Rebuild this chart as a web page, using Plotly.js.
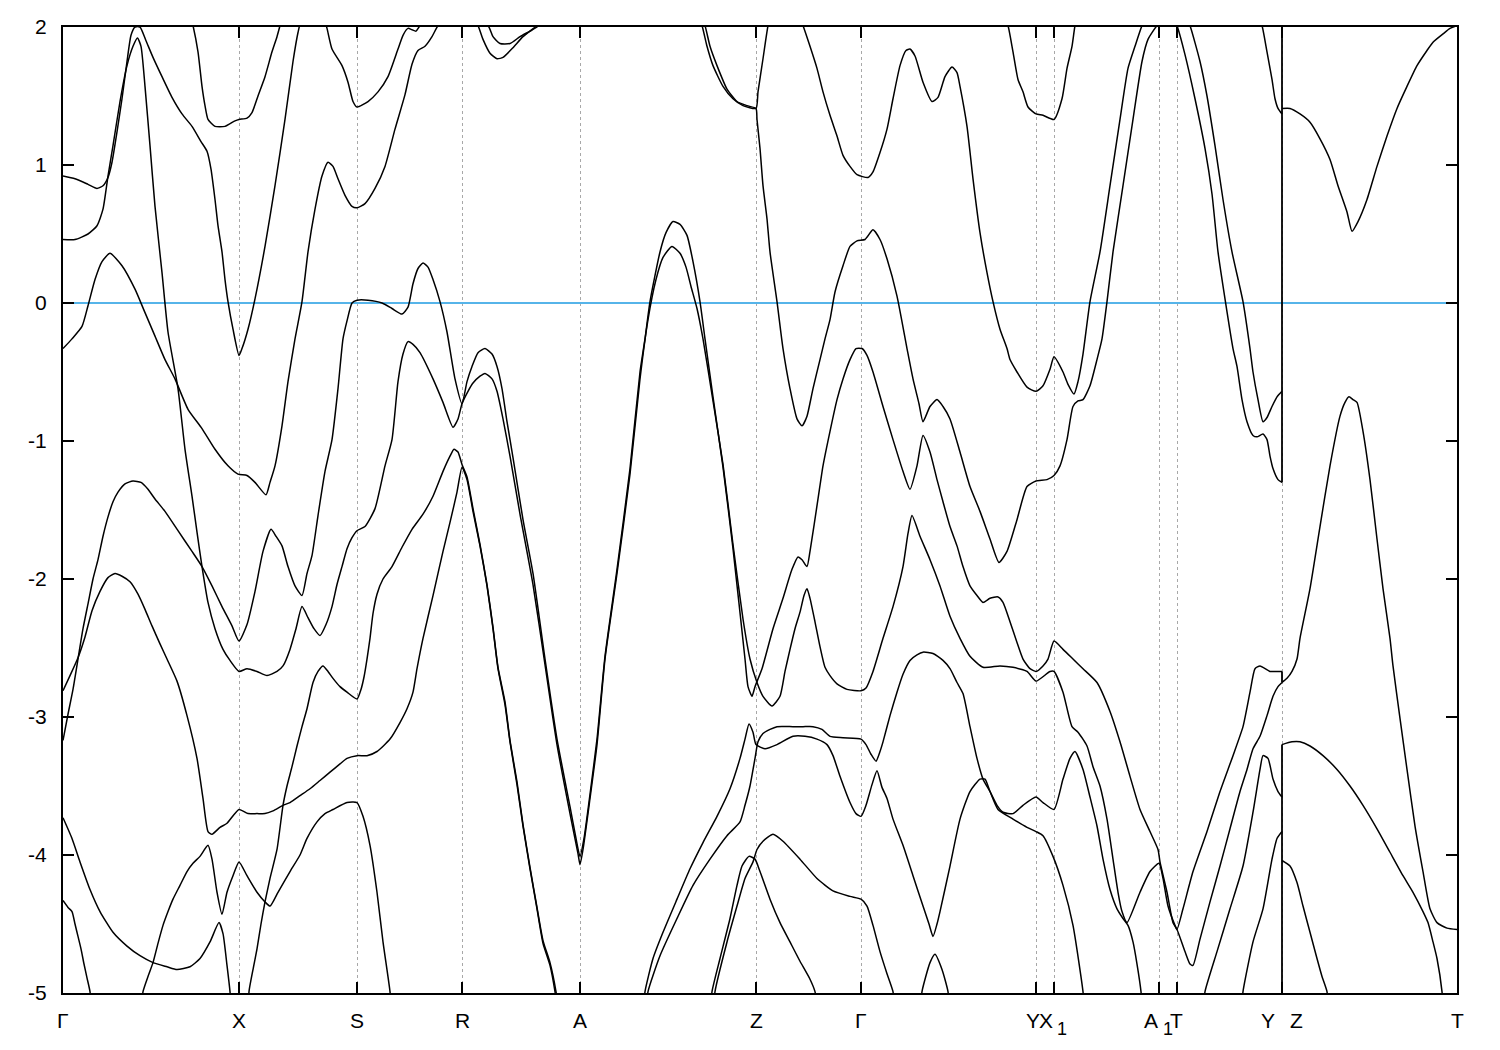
<!DOCTYPE html>
<html>
<head>
<meta charset="utf-8">
<script src="https://cdn.plot.ly/plotly-3.0.1.min.js"></script>
<style>html,body{margin:0;padding:0;background:#fff;}#chart{width:1500px;height:1050px;}</style>
</head>
<body>
<div id="chart"></div>
<script>
// High-symmetry points along the k-path (path-length units)
const kPointPos = [0, 1.76, 2.94, 3.99, 5.17, 6.93, 7.98, 9.73, 9.91, 10.96, 11.14, 12.19, 13.94];
const kLabels = ["Γ","X","S","R","A","Z","Γ","Y","X1","A1","T","Y|Z","T"];
const yTicks = [-5,-4,-3,-2,-1,0,1,2];
// Y|Z discontinuity (energies spanned by the jump)
const jumpK = 12.19;
const jumpE = [[2.0,-1.30],[-2.67,-2.75],[-3.20,-5.0]];

// Bands: [k, E(eV)]
const band01 = [[0,.92],[.12,.90],[.25,.86],[.34,.83],[.40,.85],[.45,.91],[.49,1.02],[.54,1.24],[.59,1.48],[.64,1.75],[.68,1.94],[.72,2.0],[.77,2.0],[.83,1.90],[.90,1.78],[.99,1.64],[1.09,1.49],[1.19,1.37],[1.29,1.28],[1.38,1.17],[1.44,1.10],[1.48,.97],[1.52,.75],[1.55,.56],[1.59,.37],[1.62,.17],[1.65,.01],[1.70,-.19],[1.76,-.38],[1.79,-.33],[1.85,-.19],[1.92,.03],[2.02,.41],[2.12,.85],[2.22,1.33],[2.30,1.75],[2.35,1.96],[2.39,2.07],[2.49,2.14],[2.61,2.06],[2.64,1.99],[2.69,1.84],[2.79,1.72],[2.85,1.60],[2.90,1.46],[2.94,1.42],[3.05,1.46],[3.15,1.53],[3.25,1.64],[3.35,1.84],[3.40,1.94],[3.45,1.99],[3.49,1.98],[3.53,1.97],[3.57,2.01],[3.67,2.09]];
const band02 = [[1.27,2.09],[1.30,2.01],[1.35,1.82],[1.39,1.57],[1.42,1.43],[1.45,1.33],[1.52,1.28],[1.62,1.28],[1.72,1.32],[1.76,1.33],[1.84,1.34],[1.89,1.38],[1.95,1.50],[2.02,1.64],[2.09,1.82],[2.14,1.93],[2.17,2.01],[2.20,2.09]];
const band03 = [[0,.46],[.12,.46],[.25,.50],[.34,.56],[.40,.68],[.45,.92],[.50,1.14],[.57,1.46],[.64,1.72],[.70,1.86],[.745,1.92],[.78,1.86],[.82,1.57],[.87,1.14],[.92,.70],[.99,.22],[1.05,-.21],[1.15,-.62],[1.22,-1.06],[1.29,-1.40],[1.34,-1.66],[1.39,-1.91],[1.45,-2.17],[1.52,-2.36],[1.60,-2.51],[1.67,-2.59],[1.76,-2.67],[1.84,-2.65],[1.94,-2.67],[2.04,-2.70],[2.14,-2.67],[2.20,-2.63],[2.27,-2.51],[2.33,-2.36],[2.39,-2.20],[2.45,-2.28],[2.51,-2.36],[2.57,-2.41],[2.63,-2.33],[2.69,-2.20],[2.74,-2.04],[2.79,-1.91],[2.84,-1.78],[2.89,-1.70],[2.94,-1.65],[3.02,-1.62],[3.12,-1.49],[3.22,-1.18],[3.29,-.99],[3.35,-.57],[3.40,-.37],[3.45,-.28],[3.50,-.30],[3.57,-.36],[3.70,-.55],[3.80,-.72],[3.90,-.90],[3.95,-.84],[3.99,-.73],[4.05,-.64],[4.10,-.58],[4.17,-.53],[4.22,-.51],[4.29,-.55],[4.34,-.64],[4.40,-.84],[4.47,-1.11],[4.57,-1.53],[4.70,-2.04],[4.82,-2.62],[4.94,-3.20],[5.07,-3.70],[5.15,-3.99],[5.17,-4.07],[5.20,-3.96],[5.27,-3.59],[5.34,-3.20],[5.42,-2.58],[5.54,-1.96],[5.67,-1.24],[5.77,-.55],[5.85,-.12],[5.93,.17],[6.00,.33],[6.09,.41],[6.17,.36],[6.23,.26],[6.28,.12],[6.34,-.04],[6.40,-.26],[6.50,-.71],[6.60,-1.17],[6.70,-1.75],[6.80,-2.29],[6.87,-2.58],[6.94,-2.75],[7.00,-2.85],[7.09,-2.92],[7.17,-2.85],[7.22,-2.67],[7.27,-2.51],[7.32,-2.36],[7.37,-2.24],[7.41,-2.12],[7.44,-2.07],[7.47,-2.14],[7.52,-2.31],[7.57,-2.49],[7.62,-2.64],[7.67,-2.70],[7.74,-2.76],[7.84,-2.80],[7.98,-2.81],[8.03,-2.79],[8.10,-2.67],[8.20,-2.43],[8.30,-2.20],[8.40,-1.91],[8.45,-1.67],[8.49,-1.54],[8.57,-1.69],[8.67,-1.86],[8.77,-2.05],[8.87,-2.27],[8.97,-2.43],[9.07,-2.56],[9.20,-2.64],[9.37,-2.63],[9.50,-2.64],[9.64,-2.67],[9.73,-2.74],[9.87,-2.67],[9.91,-2.67],[10.00,-2.82],[10.09,-3.07],[10.15,-3.11],[10.24,-3.21],[10.30,-3.36],[10.37,-3.50],[10.44,-3.74],[10.50,-4.03],[10.55,-4.27],[10.59,-4.41],[10.64,-4.49],[10.77,-4.27],[10.87,-4.12],[10.96,-4.06],[11.00,-4.17],[11.05,-4.37],[11.12,-4.51],[11.14,-4.54],[11.20,-4.39],[11.30,-4.12],[11.44,-3.83],[11.57,-3.54],[11.70,-3.28],[11.80,-3.07],[11.87,-2.82],[11.92,-2.65],[11.97,-2.63],[12.07,-2.67],[12.14,-2.67],[12.19,-2.67]];
const band04 = [[0,-3.17],[.05,-2.98],[.10,-2.80],[.15,-2.58],[.20,-2.36],[.25,-2.18],[.30,-2.00],[.35,-1.86],[.40,-1.69],[.45,-1.55],[.50,-1.44],[.55,-1.37],[.62,-1.31],[.70,-1.29],[.78,-1.30],[.85,-1.35],[.92,-1.42],[1.02,-1.51],[1.15,-1.65],[1.29,-1.80],[1.39,-1.91],[1.49,-2.05],[1.59,-2.20],[1.69,-2.34],[1.76,-2.45],[1.84,-2.33],[1.92,-2.09],[2.00,-1.80],[2.08,-1.64],[2.13,-1.69],[2.19,-1.76],[2.25,-1.91],[2.32,-2.05],[2.39,-2.12],[2.44,-1.96],[2.49,-1.83],[2.55,-1.54],[2.62,-1.22],[2.69,-.99],[2.75,-.62],[2.80,-.26],[2.84,-.13],[2.89,0],[2.94,.02],[3.05,.02],[3.19,0],[3.29,-.04],[3.39,-.08],[3.45,-.03],[3.50,.14],[3.55,.25],[3.60,.29],[3.65,.26],[3.70,.17],[3.77,.01],[3.84,-.21],[3.92,-.55],[3.99,-.73],[4.04,-.57],[4.09,-.46],[4.15,-.36],[4.22,-.33],[4.29,-.37],[4.34,-.46],[4.39,-.62],[4.44,-.86],[4.50,-1.12],[4.60,-1.57],[4.70,-1.96],[4.82,-2.58],[4.94,-3.16],[5.07,-3.65],[5.13,-3.88],[5.17,-4.01],[5.21,-3.88],[5.27,-3.56],[5.34,-3.16],[5.42,-2.56],[5.54,-1.93],[5.67,-1.20],[5.77,-.50],[5.82,-.26],[5.87,.01],[5.97,.37],[6.03,.51],[6.10,.59],[6.17,.57],[6.24,.49],[6.30,.30],[6.37,.01],[6.42,-.26],[6.50,-.68],[6.60,-1.19],[6.70,-1.78],[6.82,-2.58],[6.85,-2.78],[6.89,-2.85],[6.92,-2.78],[6.99,-2.65],[7.10,-2.36],[7.20,-2.14],[7.29,-1.93],[7.35,-1.84],[7.39,-1.86],[7.44,-1.91],[7.47,-1.80],[7.55,-1.42],[7.60,-1.18],[7.67,-.93],[7.74,-.70],[7.80,-.55],[7.87,-.41],[7.93,-.33],[7.99,-.33],[8.04,-.38],[8.10,-.50],[8.20,-.75],[8.30,-.99],[8.40,-1.22],[8.47,-1.35],[8.54,-1.18],[8.60,-.96],[8.67,-1.08],[8.74,-1.28],[8.80,-1.44],[8.87,-1.62],[8.94,-1.76],[9.00,-1.91],[9.07,-2.05],[9.14,-2.12],[9.20,-2.17],[9.27,-2.14],[9.35,-2.13],[9.40,-2.17],[9.47,-2.31],[9.54,-2.46],[9.60,-2.58],[9.67,-2.65],[9.73,-2.67],[9.80,-2.63],[9.85,-2.58],[9.91,-2.45],[10.00,-2.51],[10.10,-2.58],[10.20,-2.65],[10.34,-2.75],[10.47,-2.96],[10.57,-3.18],[10.67,-3.43],[10.77,-3.67],[10.87,-3.83],[10.95,-3.96],[10.97,-4.05],[11.04,-4.27],[11.10,-4.49],[11.14,-4.54],[11.22,-4.70],[11.27,-4.79],[11.30,-4.80],[11.37,-4.61],[11.47,-4.34],[11.57,-4.08],[11.67,-3.81],[11.77,-3.54],[11.84,-3.38],[11.90,-3.23],[11.97,-3.14],[12.04,-2.99],[12.10,-2.85],[12.15,-2.78],[12.19,-2.75]];
const band05 = [[0,-2.81],[.07,-2.70],[.15,-2.57],[.22,-2.42],[.29,-2.23],[.37,-2.09],[.45,-1.99],[.52,-1.96],[.59,-1.98],[.67,-2.02],[.75,-2.11],[.82,-2.22],[.89,-2.34],[.97,-2.47],[1.04,-2.58],[1.14,-2.74],[1.24,-2.99],[1.34,-3.30],[1.40,-3.59],[1.45,-3.83],[1.49,-3.85],[1.57,-3.80],[1.64,-3.77],[1.76,-3.67],[1.85,-3.70],[1.94,-3.70],[2.02,-3.70],[2.10,-3.68],[2.20,-3.64],[2.27,-3.62],[2.37,-3.57],[2.47,-3.52],[2.57,-3.46],[2.67,-3.40],[2.77,-3.34],[2.84,-3.30],[2.94,-3.28],[3.04,-3.28],[3.14,-3.25],[3.27,-3.16],[3.37,-3.04],[3.44,-2.94],[3.50,-2.82],[3.54,-2.65],[3.60,-2.43],[3.70,-2.12],[3.80,-1.80],[3.87,-1.59],[3.94,-1.37],[3.99,-1.19],[4.04,-1.28],[4.10,-1.51],[4.17,-1.76],[4.24,-2.05],[4.30,-2.36],[4.35,-2.65],[4.42,-2.91],[4.47,-3.18],[4.54,-3.49],[4.60,-3.79],[4.67,-4.10],[4.74,-4.39],[4.80,-4.64],[4.87,-4.80],[4.92,-4.99],[4.94,-5.1]];
const band06 = [[1.86,-5.1],[1.86,-4.99],[1.90,-4.83],[1.94,-4.68],[1.98,-4.50],[2.02,-4.34],[2.07,-4.17],[2.14,-3.96],[2.20,-3.64],[2.24,-3.50],[2.29,-3.36],[2.34,-3.21],[2.39,-3.07],[2.44,-2.94],[2.50,-2.75],[2.55,-2.67],[2.60,-2.63],[2.65,-2.67],[2.70,-2.72],[2.77,-2.78],[2.84,-2.82],[2.94,-2.87],[2.98,-2.80],[3.01,-2.71],[3.04,-2.58],[3.07,-2.43],[3.10,-2.25],[3.14,-2.11],[3.20,-2.00],[3.29,-1.91],[3.39,-1.77],[3.49,-1.64],[3.60,-1.53],[3.70,-1.40],[3.80,-1.22],[3.87,-1.11],[3.91,-1.06],[3.95,-1.08],[3.99,-1.17],[4.04,-1.26],[4.10,-1.49],[4.17,-1.75],[4.24,-2.04],[4.30,-2.35],[4.35,-2.64],[4.42,-2.89],[4.47,-3.17],[4.54,-3.47],[4.60,-3.78],[4.67,-4.09],[4.74,-4.38],[4.80,-4.62],[4.87,-4.78],[4.93,-4.99],[4.95,-5.1]];
const band07 = [[0,-.33],[.09,-.26],[.19,-.17],[.25,-.02],[.32,.17],[.39,.30],[.47,.36],[.59,.27],[.72,.10],[.82,-.07],[.92,-.24],[1.02,-.41],[1.12,-.55],[1.25,-.77],[1.39,-.91],[1.52,-1.06],[1.65,-1.18],[1.75,-1.24],[1.84,-1.25],[1.92,-1.30],[2.03,-1.39],[2.07,-1.30],[2.12,-1.18],[2.19,-.89],[2.25,-.57],[2.32,-.26],[2.39,.01],[2.45,.37],[2.52,.68],[2.59,.92],[2.65,1.02],[2.70,.99],[2.75,.90],[2.82,.78],[2.89,.70],[2.94,.69],[3.02,.72],[3.12,.83],[3.22,.99],[3.32,1.26],[3.42,1.51],[3.49,1.73],[3.55,1.83],[3.62,1.86],[3.69,1.93],[3.75,2.01],[3.92,2.13],[4.25,2.01],[4.30,1.93],[4.37,1.88],[4.47,1.88],[4.57,1.93],[4.67,1.97],[4.74,2.00],[4.82,2.06]];
const band08 = [[0,-3.73],[.09,-3.88],[.17,-4.05],[.27,-4.25],[.37,-4.41],[.50,-4.56],[.64,-4.66],[.77,-4.73],[.90,-4.78],[1.04,-4.81],[1.14,-4.83],[1.27,-4.81],[1.37,-4.75],[1.47,-4.63],[1.56,-4.49],[1.60,-4.57],[1.64,-4.80],[1.67,-4.99],[1.68,-5.1]];
const band09 = [[.79,-5.1],[.80,-4.99],[.85,-4.88],[.90,-4.78],[.95,-4.64],[1.00,-4.51],[1.05,-4.41],[1.10,-4.32],[1.17,-4.22],[1.24,-4.12],[1.30,-4.06],[1.37,-4.01],[1.45,-3.93],[1.49,-4.03],[1.54,-4.27],[1.59,-4.43],[1.64,-4.27],[1.70,-4.15],[1.76,-4.05],[1.84,-4.15],[1.94,-4.27],[2.02,-4.34],[2.07,-4.37],[2.15,-4.27],[2.27,-4.12],[2.37,-4.00],[2.44,-3.88],[2.54,-3.76],[2.62,-3.70],[2.70,-3.67],[2.84,-3.62],[2.94,-3.62],[3.00,-3.72],[3.07,-3.93],[3.14,-4.27],[3.20,-4.63],[3.27,-4.99],[3.28,-5.1]];
const band10 = [[0,-4.33],[.05,-4.38],[.09,-4.41],[.12,-4.50],[.15,-4.59],[.18,-4.68],[.21,-4.79],[.24,-4.89],[.27,-4.99],[.28,-5.1]];
const band11 = [[4.07,2.09],[4.15,2.01],[4.20,1.91],[4.27,1.81],[4.34,1.77],[4.40,1.78],[4.50,1.85],[4.60,1.93],[4.74,2.01],[4.82,2.07]];
const band12 = [[6.34,2.09],[6.39,2.01],[6.44,1.86],[6.50,1.72],[6.60,1.57],[6.70,1.48],[6.80,1.43],[6.93,1.41],[6.95,1.53],[7.00,1.77],[7.05,2.01],[7.08,2.09]];
const band13 = [[6.37,2.09],[6.42,2.01],[6.47,1.86],[6.54,1.72],[6.64,1.55],[6.74,1.46],[6.84,1.43],[6.93,1.41],[6.94,1.33],[6.97,1.12],[7.00,.85],[7.04,.61],[7.07,.37],[7.14,.01],[7.20,-.33],[7.27,-.62],[7.34,-.84],[7.39,-.89],[7.44,-.82],[7.50,-.62],[7.57,-.41],[7.62,-.26],[7.67,-.12],[7.72,.08],[7.80,.27],[7.87,.41],[7.94,.45],[8.02,.46],[8.10,.53],[8.17,.46],[8.24,.32],[8.34,.05],[8.44,-.33],[8.50,-.55],[8.56,-.73],[8.60,-.86],[8.67,-.75],[8.74,-.70],[8.80,-.75],[8.87,-.84],[8.97,-1.08],[9.07,-1.33],[9.17,-1.51],[9.27,-1.71],[9.36,-1.88],[9.44,-1.80],[9.54,-1.57],[9.64,-1.33],[9.73,-1.29],[9.84,-1.28],[9.91,-1.25],[9.97,-1.18],[10.04,-.99],[10.10,-.75],[10.15,-.71],[10.20,-.70],[10.27,-.60],[10.34,-.41],[10.39,-.26],[10.44,.01],[10.50,.37],[10.60,.85],[10.70,1.33],[10.79,1.75],[10.85,1.91],[10.94,2.01],[11.02,2.06]];
const band14 = [[7.35,2.09],[7.40,2.01],[7.47,1.86],[7.54,1.70],[7.60,1.53],[7.67,1.36],[7.74,1.21],[7.80,1.07],[7.87,.99],[7.94,.93],[8.05,.91],[8.10,.95],[8.17,1.09],[8.24,1.26],[8.30,1.48],[8.37,1.72],[8.43,1.83],[8.47,1.84],[8.52,1.79],[8.60,1.60],[8.69,1.46],[8.75,1.49],[8.82,1.64],[8.89,1.71],[8.94,1.67],[8.97,1.57],[9.04,1.28],[9.10,.90],[9.17,.51],[9.24,.22],[9.30,.01],[9.37,-.19],[9.44,-.33],[9.47,-.41],[9.54,-.50],[9.64,-.61],[9.73,-.64],[9.80,-.60],[9.87,-.48],[9.91,-.39],[10.00,-.50],[10.05,-.59],[10.11,-.66],[10.15,-.57],[10.20,-.37],[10.27,.01],[10.37,.37],[10.47,.85],[10.57,1.33],[10.65,1.70],[10.72,1.86],[10.79,2.01],[10.85,2.09]];
const band15 = [[9.40,2.09],[9.45,2.01],[9.50,1.82],[9.55,1.62],[9.60,1.53],[9.65,1.42],[9.73,1.37],[9.80,1.36],[9.91,1.33],[9.99,1.48],[10.04,1.70],[10.09,1.86],[10.12,2.01],[10.15,2.09]];
const band16 = [[11.09,2.09],[11.14,2.01],[11.22,1.80],[11.32,1.48],[11.42,1.12],[11.49,.79],[11.55,.37],[11.62,.03],[11.70,-.33],[11.74,-.46],[11.79,-.70],[11.84,-.86],[11.90,-.96],[11.94,-.97],[12.00,-.95],[12.04,-.99],[12.07,-1.11],[12.10,-1.20],[12.15,-1.28],[12.19,-1.30]];
const band17 = [[11.22,2.09],[11.27,2.01],[11.37,1.75],[11.44,1.50],[11.52,1.14],[11.60,.75],[11.69,.37],[11.80,.01],[11.87,-.33],[11.90,-.50],[11.95,-.70],[12.00,-.86],[12.04,-.83],[12.09,-.75],[12.14,-.68],[12.19,-.64]];
const band18 = [[11.94,2.09],[11.99,2.01],[12.04,1.82],[12.09,1.62],[12.12,1.48],[12.15,1.41],[12.19,1.37]];
const band19 = [[5.81,-5.1],[5.82,-4.99],[5.90,-4.75],[6.00,-4.56],[6.14,-4.32],[6.27,-4.10],[6.40,-3.91],[6.54,-3.72],[6.67,-3.52],[6.77,-3.30],[6.82,-3.16],[6.86,-3.05],[6.90,-3.11],[6.93,-3.20],[7.02,-3.23],[7.14,-3.20],[7.30,-3.14],[7.42,-3.14],[7.54,-3.16],[7.64,-3.20],[7.70,-3.28],[7.77,-3.43],[7.87,-3.62],[7.93,-3.70],[7.98,-3.72],[8.03,-3.64],[8.09,-3.49],[8.14,-3.39],[8.19,-3.51],[8.24,-3.59],[8.30,-3.74],[8.40,-3.93],[8.50,-4.15],[8.60,-4.37],[8.66,-4.50],[8.70,-4.59],[8.74,-4.50],[8.77,-4.41],[8.87,-4.08],[8.97,-3.74],[9.07,-3.54],[9.17,-3.45],[9.22,-3.45],[9.27,-3.54],[9.35,-3.67],[9.50,-3.74],[9.64,-3.80],[9.73,-3.83],[9.80,-3.86],[9.90,-4.01],[10.00,-4.22],[10.10,-4.51],[10.20,-4.99],[10.21,-5.1]];
const band20 = [[5.84,-5.1],[5.85,-4.99],[5.97,-4.73],[6.14,-4.46],[6.30,-4.22],[6.47,-4.03],[6.64,-3.86],[6.77,-3.76],[6.82,-3.64],[6.87,-3.50],[6.92,-3.30],[6.95,-3.18],[7.00,-3.12],[7.07,-3.09],[7.14,-3.07],[7.30,-3.07],[7.40,-3.07],[7.50,-3.07],[7.59,-3.09],[7.67,-3.14],[7.80,-3.15],[7.98,-3.16],[8.03,-3.20],[8.08,-3.27],[8.13,-3.32],[8.17,-3.25],[8.20,-3.18],[8.27,-2.99],[8.34,-2.82],[8.40,-2.69],[8.47,-2.59],[8.54,-2.55],[8.60,-2.53],[8.70,-2.54],[8.80,-2.59],[8.87,-2.65],[8.94,-2.75],[9.00,-2.83],[9.07,-3.07],[9.14,-3.30],[9.20,-3.45],[9.27,-3.54],[9.34,-3.64],[9.40,-3.69],[9.50,-3.70],[9.60,-3.64],[9.73,-3.58],[9.80,-3.62],[9.91,-3.67],[10.00,-3.45],[10.07,-3.30],[10.12,-3.25],[10.20,-3.38],[10.27,-3.58],[10.34,-3.79],[10.40,-4.03],[10.47,-4.25],[10.54,-4.39],[10.60,-4.46],[10.65,-4.51],[10.70,-4.63],[10.74,-4.79],[10.78,-4.99],[10.79,-5.1]];
const band21 = [[11.41,-5.1],[11.42,-4.99],[11.54,-4.70],[11.67,-4.39],[11.80,-4.08],[11.90,-3.69],[11.97,-3.38],[12.00,-3.28],[12.05,-3.30],[12.10,-3.45],[12.15,-3.54],[12.19,-3.58]];
const band22 = [[11.79,-5.1],[11.80,-4.99],[11.90,-4.63],[12.00,-4.39],[12.09,-4.03],[12.14,-3.88],[12.19,-3.83]];
const band23 = [[6.48,-5.1],[6.49,-4.99],[6.57,-4.75],[6.67,-4.46],[6.74,-4.22],[6.79,-4.08],[6.86,-4.01],[6.92,-4.03],[6.97,-4.12],[7.07,-4.32],[7.17,-4.49],[7.27,-4.63],[7.37,-4.77],[7.47,-4.90],[7.52,-4.99],[7.54,-5.1]];
const band24 = [[6.51,-5.1],[6.52,-4.99],[6.64,-4.63],[6.74,-4.37],[6.82,-4.17],[6.90,-4.05],[6.94,-3.96],[7.00,-3.90],[7.10,-3.85],[7.20,-3.90],[7.37,-4.03],[7.54,-4.17],[7.70,-4.26],[7.87,-4.30],[7.98,-4.32],[8.04,-4.37],[8.10,-4.51],[8.17,-4.70],[8.24,-4.86],[8.30,-4.99],[8.31,-5.1]];
const band25 = [[8.58,-5.1],[8.59,-4.99],[8.67,-4.78],[8.72,-4.72],[8.79,-4.83],[8.85,-4.99],[8.86,-5.1]];
const band26 = [[12.19,1.41],[12.27,1.41],[12.37,1.37],[12.47,1.31],[12.57,1.19],[12.67,1.04],[12.75,.85],[12.84,.66],[12.89,.52],[12.95,.59],[13.04,.75],[13.14,.99],[13.24,1.21],[13.34,1.41],[13.44,1.57],[13.54,1.72],[13.64,1.83],[13.70,1.89],[13.80,1.95],[13.87,1.99],[13.94,2.01]];
const band27 = [[12.19,-2.75],[12.24,-2.72],[12.29,-2.67],[12.34,-2.58],[12.37,-2.43],[12.47,-2.07],[12.57,-1.62],[12.67,-1.18],[12.77,-.82],[12.82,-.72],[12.86,-.68],[12.90,-.70],[12.94,-.72],[13.00,-.93],[13.07,-1.28],[13.14,-1.71],[13.20,-2.07],[13.27,-2.43],[13.30,-2.63],[13.37,-3.01],[13.44,-3.38],[13.52,-3.79],[13.60,-4.12],[13.67,-4.39],[13.74,-4.49],[13.84,-4.53],[13.94,-4.54]];
const band28 = [[12.19,-3.20],[12.29,-3.18],[12.37,-3.18],[12.47,-3.21],[12.60,-3.28],[12.74,-3.38],[12.87,-3.50],[13.00,-3.64],[13.14,-3.81],[13.27,-3.98],[13.40,-4.15],[13.50,-4.27],[13.60,-4.41],[13.65,-4.49],[13.70,-4.63],[13.74,-4.75],[13.79,-4.99],[13.80,-5.1]];
const band29 = [[12.19,-4.04],[12.27,-4.08],[12.34,-4.20],[12.40,-4.37],[12.47,-4.56],[12.54,-4.75],[12.59,-4.88],[12.64,-4.99],[12.65,-5.1]];

const bands = [band01,band02,band03,band04,band05,band06,band07,band08,band09,band10,band11,band12,band13,band14,band15,band16,band17,band18,band19,band20,band21,band22,band23,band24,band25,band26,band27,band28,band29];

const FONT = "Liberation Sans, Arial, Helvetica, sans-serif";
const traces = bands.map(b => ({
  type: 'scatter', mode: 'lines',
  x: b.map(p => p[0]), y: b.map(p => p[1]),
  line: {color: '#000', width: 1.5, shape: 'spline', smoothing: 0.55},
  hoverinfo: 'skip', showlegend: false
}));
// Y|Z discontinuity
const jx = [], jy = [];
jumpE.forEach(seg => { jx.push(jumpK, jumpK, null); jy.push(seg[0], seg[1], null); });
traces.push({type:'scatter', mode:'lines', x: jx, y: jy, line:{color:'#000', width:1.8}, hoverinfo:'skip', showlegend:false});

// x labels as annotations (to allow close-packed labels)
const labelSpec = [
  {x: kPointPos[0], t: "Γ"}, {x: kPointPos[1], t: "X"}, {x: kPointPos[2], t: "S"},
  {x: kPointPos[3], t: "R"}, {x: kPointPos[4], t: "A"}, {x: kPointPos[5], t: "Z"},
  {x: kPointPos[6], t: "Γ"}, {x: 9.70, t: "Y"}, {x: 9.825, t: "X"}, {x: 9.985, t: "1", sub: true},
  {x: 10.875, t: "A"}, {x: 11.045, t: "1", sub: true}, {x: 11.13, t: "T"},
  {x: 12.05, t: "Y"}, {x: 12.33, t: "Z"}, {x: kPointPos[12], t: "T"}
];
const annotations = labelSpec.map(l => ({
  x: l.x, xref: 'x', y: 0, yref: 'paper', yanchor: 'middle', xanchor: 'center',
  yshift: l.sub ? -36 : -27, text: l.t, showarrow: false,
  font: {family: FONT, size: l.sub ? 18 : 21, color: '#000'}
}));

const layout = {
  width: 1500, height: 1050,
  margin: {l: 63, r: 43, t: 27, b: 57, pad: 0},
  paper_bgcolor: '#fff', plot_bgcolor: '#fff',
  font: {family: FONT, size: 21, color: '#000'},
  xaxis: {
    range: [0, 13.94], autorange: false,
    tickmode: 'array', tickvals: kPointPos, ticktext: kPointPos.map(() => ''),
    ticks: 'inside', ticklen: 11, tickwidth: 1.5, tickcolor: '#000',
    showline: true, linecolor: '#000', linewidth: 2, mirror: 'allticks',
    showgrid: true, gridcolor: '#a8a8a8', gridwidth: 1, griddash: 'dot',
    zeroline: false
  },
  yaxis: {
    range: [-5, 2], autorange: false,
    tickmode: 'array', tickvals: yTicks, ticktext: yTicks.map(String),
    ticks: 'inside', ticklen: 11, tickwidth: 1.5, tickcolor: '#000',
    showline: true, linecolor: '#000', linewidth: 2, mirror: 'allticks',
    showgrid: false,
    zeroline: true, zerolinecolor: '#56b4e9', zerolinewidth: 1.6,
    tickfont: {family: FONT, size: 21, color: '#000'},
    ticklabelstandoff: 10
  },
  annotations: annotations,
  showlegend: false
};

Plotly.newPlot('chart', traces, layout, {staticPlot: true, displayModeBar: false});
</script>
</body>
</html>
